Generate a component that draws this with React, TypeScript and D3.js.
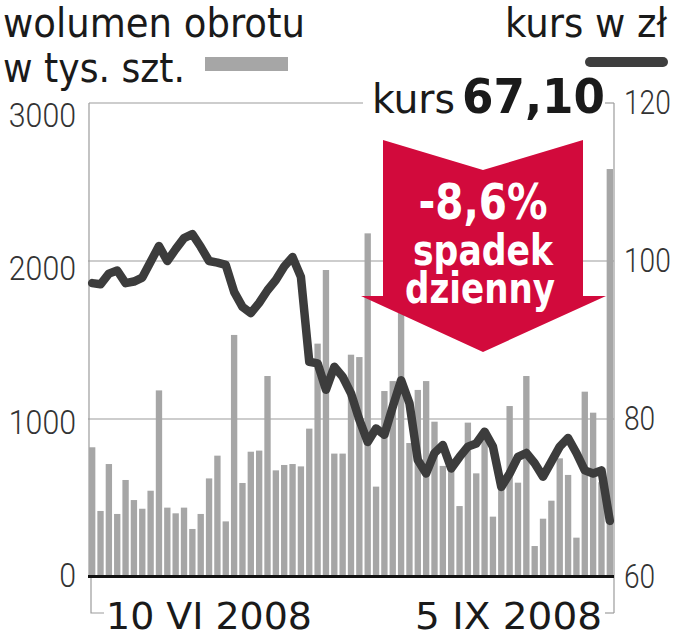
import React from "react";
import * as d3 from "d3";

const volume = [
  821, 418, 715, 399, 614, 487, 432, 546, 1181, 439, 403, 439, 304, 399, 624, 768, 352, 1532, 595, 793,
  800, 1272, 675, 709, 715, 700, 939, 1477, 1943, 781, 781, 1407, 1392, 2175, 572, 1177, 1240, 1700, 848, 1184,
  1240, 983, 703, 677, 449, 977, 656, 900, 382, 560, 1082, 597, 1272, 196, 369, 483, 751, 646, 249, 1173,
  1040, 600, 2582,
];

const price = [
  97.2, 97.05, 98.4, 98.8, 97.2, 97.4, 97.9, 99.9, 101.9, 100.0, 101.5, 102.9, 103.4, 101.8, 100.0, 99.8, 99.5, 96.1, 94.2, 93.4,
  94.7, 96.3, 97.6, 99.3, 100.5, 98.0, 87.25, 87.05, 83.7, 86.6, 85.35, 83.25, 79.9, 77.1, 78.8, 78.0, 81.55, 84.9, 82.0, 74.8,
  73.1, 75.7, 76.7, 73.75, 75.2, 76.5, 76.9, 78.4, 76.5, 71.4, 73.1, 75.2, 75.7, 74.4, 72.7, 74.6, 76.5, 77.6, 75.7, 73.5,
  73.1, 73.5, 67.1,
];

const volTicks = [0, 1000, 2000, 3000];
const priceTicks = [60, 80, 100, 120];
const dateLabels = ["10 VI 2008", "5 IX 2008"];
const titleLeft = ["wolumen obrotu", "w tys. szt."];
const titleRight = "kurs w zł";
const lastPriceLabel = "67,10";
const arrowTexts = ["-8,6%", "spadek", "dzienny"];

const FONT = "'DejaVu Sans Condensed', 'DejaVu Sans', sans-serif";
const AXFONT = "Roboto, 'DejaVu Sans', sans-serif";

export default function App() {
  const W = 678;
  const H = 640;
  const x0 = 88;
  const x1 = 614;
  const yTop = 103;
  const yBot = 577;

  const x = d3
    .scaleBand<number>()
    .domain(d3.range(volume.length))
    .range([x0, x1])
    .paddingInner(0.24)
    .paddingOuter(0.12);
  const yVol = d3.scaleLinear().domain([0, 3000]).range([yBot, yTop]);
  const yPrice = d3.scaleLinear().domain([60, 120]).range([yBot, yTop]);

  const line = d3
    .line<number>()
    .x((_, i) => (x(i) as number) + x.bandwidth() / 2)
    .y((d) => yPrice(d));

  const leftOffset = d3.scaleLinear().domain([0, 3000]).range([10, 24]);

  const red = "#d20a3c";
  const grid = "#9c9c9c";

  const arrowPts: [number, number][] = [
    [383, 140],
    [483, 170],
    [583, 140],
    [583, 296],
    [606, 296],
    [483, 352],
    [361, 296],
    [383, 296],
  ];

  return (
    <svg
      width={W}
      height={H}
      viewBox={`0 0 ${W} ${H}`}
      style={{ position: "absolute", left: 0, top: 0, background: "#fff" }}
    >
      <rect x={0} y={0} width={W} height={H} fill="#fff" />

      {/* titles */}
      <text x={3} y={37} fontFamily={FONT} fontSize={41} fill="#1a1a1a" textLength={302} lengthAdjust="spacingAndGlyphs">
        {titleLeft[0]}
      </text>
      <text x={3} y={82} fontFamily={FONT} fontSize={41} fill="#1a1a1a" textLength={182} lengthAdjust="spacingAndGlyphs">
        {titleLeft[1]}
      </text>
      <rect x={205} y={57} width={83} height={14} fill="#a6a6a6" />
      <text x={505} y={37} fontFamily={FONT} fontSize={41} fill="#1a1a1a" textLength={162} lengthAdjust="spacingAndGlyphs">
        {titleRight}
      </text>
      <line x1={590} y1={62} x2={663} y2={62} stroke="#3e3e3e" strokeWidth={10} strokeLinecap="round" />

      {/* gridlines */}
      {volTicks
        .filter((t) => t > 0 && t < 3000)
        .map((t) => (
          <line key={t} x1={x0} x2={x1} y1={yVol(t)} y2={yVol(t)} stroke={grid} strokeWidth={1.2} />
        ))}

      {/* frame */}
      <line x1={x0 + 1} y1={yTop} x2={x0 + 1} y2={yBot} stroke={grid} strokeWidth={1.2} />
      <line x1={x0 + 1} y1={yTop} x2={363} y2={yTop} stroke={grid} strokeWidth={1.2} />
      <line x1={605} y1={yTop} x2={x1} y2={yTop} stroke={grid} strokeWidth={1.2} />
      <line x1={x1} y1={yTop} x2={x1} y2={613} stroke={grid} strokeWidth={1.2} />
      <line x1={x1} y1={613} x2={605} y2={613} stroke={grid} strokeWidth={1.2} />
      <polyline points={`91,${yBot} 91,613 104,613`} fill="none" stroke={grid} strokeWidth={1.2} />

      {/* bars */}
      {volume.map((v, i) => (
        <rect
          key={i}
          x={x(i) as number}
          y={yVol(v)}
          width={x.bandwidth()}
          height={yBot - yVol(v)}
          fill="#a6a6a6"
        />
      ))}

      {/* baseline */}
      <line x1={x0} x2={x1} y1={yBot - 0.5} y2={yBot - 0.5} stroke="#111" strokeWidth={3} />

      {/* price line */}
      <path
        d={line(price) || ""}
        fill="none"
        stroke="#3c3c3c"
        strokeWidth={8.5}
        strokeLinejoin="round"
        strokeLinecap="round"
      />

      {/* arrow */}
      <polygon points={arrowPts.map((p) => p.join(",")).join(" ")} fill={red} />
      <text x={483} y={219} textAnchor="middle" fontFamily={FONT} fontWeight="bold" fontSize={49} fill="#fff" textLength={129} lengthAdjust="spacingAndGlyphs">
        {arrowTexts[0]}
      </text>
      <text x={483} y={265} textAnchor="middle" fontFamily={FONT} fontWeight="bold" fontSize={43} fill="#fff" textLength={140} lengthAdjust="spacingAndGlyphs">
        {arrowTexts[1]}
      </text>
      <text x={480} y={303} textAnchor="middle" fontFamily={FONT} fontWeight="bold" fontSize={43} fill="#fff" textLength={150} lengthAdjust="spacingAndGlyphs">
        {arrowTexts[2]}
      </text>

      {/* kurs label */}
      <text x={372} y={113} fontFamily={FONT} fontSize={41} fill="#1a1a1a" textLength={83} lengthAdjust="spacingAndGlyphs">
        kurs
      </text>
      <text x={462} y={113} fontFamily={FONT} fontWeight="bold" fontSize={48} fill="#1a1a1a" textLength={143} lengthAdjust="spacingAndGlyphs">
        {lastPriceLabel}
      </text>

      {/* left axis labels */}
      {volTicks.map((t) => {
        const s = String(t);
        const w = s.length * 16.8;
        return (
          <text
            key={t}
            x={76 - w}
            y={yVol(t) + leftOffset(t)}
            fontFamily={AXFONT}
            fontWeight={300}
            fontSize={34}
            fill="#333"
            textLength={w}
            lengthAdjust="spacingAndGlyphs"
          >
            {s}
          </text>
        );
      })}

      {/* right axis labels */}
      {priceTicks.map((t) => {
        const s = String(t);
        const w = s.length * 15.6;
        return (
          <text
            key={t}
            x={624}
            y={yPrice(t) + 11}
            fontFamily={AXFONT}
            fontWeight={300}
            fontSize={34}
            fill="#333"
            textLength={w}
            lengthAdjust="spacingAndGlyphs"
          >
            {s}
          </text>
        );
      })}

      {/* date labels */}
      <text x={106} y={629} fontFamily={FONT} fontSize={38} fill="#1a1a1a" textLength={206} lengthAdjust="spacingAndGlyphs">
        {dateLabels[0]}
      </text>
      <text x={415} y={629} fontFamily={FONT} fontSize={38} fill="#1a1a1a" textLength={187} lengthAdjust="spacingAndGlyphs">
        {dateLabels[1]}
      </text>
    </svg>
  );
}
